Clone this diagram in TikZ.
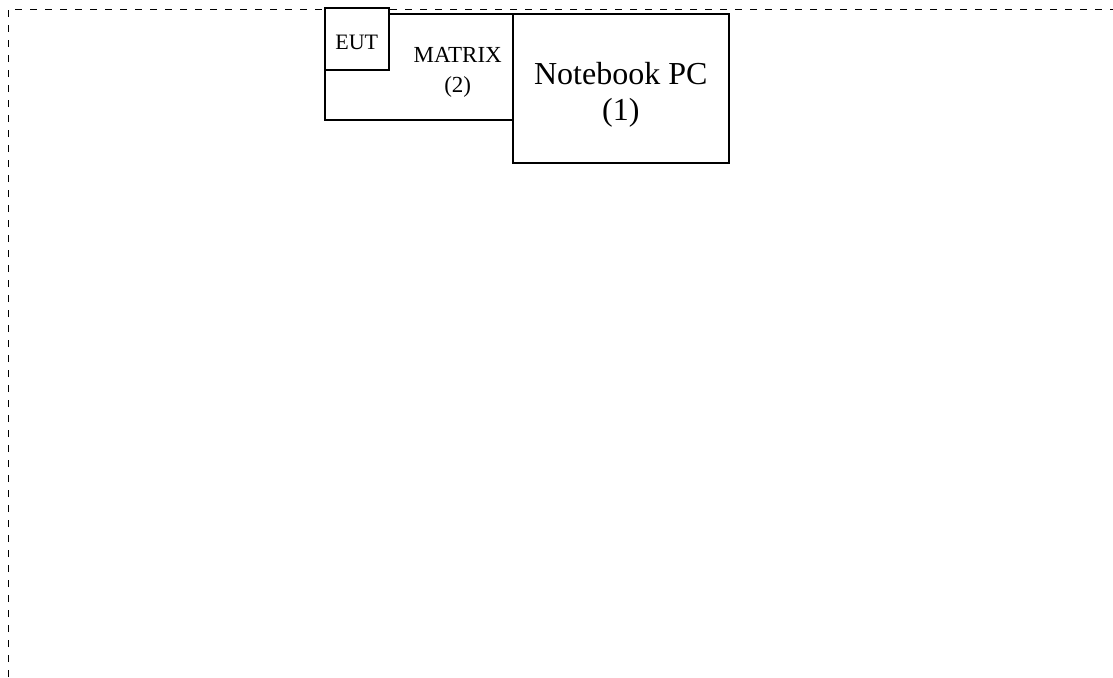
\documentclass[tikz,border=0pt]{standalone}
\usepackage{fontspec}
\setmainfont{Liberation Serif}
\usetikzlibrary{positioning}
\tikzset{
  unit/.style={draw, fill=white, line width=1.6pt, inner sep=0pt, anchor=north west},
  site/.style={draw, line width=0.8pt, dash pattern=on 7pt off 8pt}
}
\begin{document}
\begin{tikzpicture}[x=1pt,y=-1pt]
        \useasboundingbox (0,0) rectangle (1113,677);
        \coordinate (sitecorner) at (8,9);
        \coordinate (sitebottom) at (8,677);
        \coordinate (siteright) at (1113,9);
        \draw[site] (sitebottom) -- (sitecorner) -- (siteright);
        \node (matrix) [unit, minimum width=188pt, minimum height=106pt] at (324,13) {};
        \node (pc) [unit, minimum width=216pt, minimum height=149pt] at (512,13) {};
        \node (pclabel) [align=center, inner sep=0pt, font=\fontsize{32}{36}\selectfont,
            below=0pt of pc.center, yshift=26pt] {Notebook PC\\(1)};
        \node (eut) [unit, minimum width=64pt, minimum height=62pt, text height=21pt,
            font=\fontsize{22}{26}\selectfont] at (324,7) {EUT};
        \node (matrixlabel) [align=center, inner sep=0pt, font=\fontsize{23}{30}\selectfont,
            left=10pt of pc.west, yshift=16pt] {MATRIX\\(2)};
    \end{tikzpicture}
\end{document}
